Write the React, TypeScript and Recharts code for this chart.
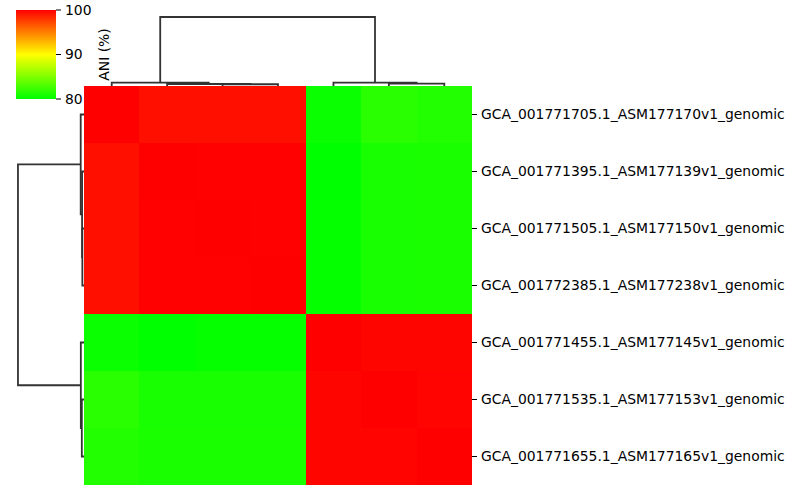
import { ScatterChart, Scatter, XAxis, YAxis, ReferenceArea, Label } from 'recharts';

const rowLabels = [
  'GCA_001771705.1_ASM177170v1_genomic',
  'GCA_001771395.1_ASM177139v1_genomic',
  'GCA_001771505.1_ASM177150v1_genomic',
  'GCA_001772385.1_ASM177238v1_genomic',
  'GCA_001771455.1_ASM177145v1_genomic',
  'GCA_001771535.1_ASM177153v1_genomic',
  'GCA_001771655.1_ASM177165v1_genomic',
];

// ANI (%) matrix, rows and columns in the clustered order
const aniMatrix: number[][] = [
  [100, 99.4, 99.4, 99.4, 80.4, 81.6, 81.3],
  [99.4, 100, 99.95, 99.95, 80.0, 80.9, 81.0],
  [99.4, 99.95, 100, 99.95, 80.1, 80.9, 81.0],
  [99.4, 99.95, 99.95, 100, 80.1, 80.9, 81.0],
  [80.4, 80.0, 80.2, 80.2, 100, 99.8, 99.8],
  [81.6, 80.9, 80.9, 80.9, 99.8, 100, 99.85],
  [81.3, 81.0, 81.0, 81.0, 99.8, 99.85, 100],
];

// linkage: [left node, right node, distance], leaves 0..6 in display order
const merges: [number, number, number][] = [
  [2, 3, 1.25],
  [1, 7, 1.45],
  [0, 8, 2.5],
  [5, 6, 1.65],
  [4, 10, 2.4],
  [9, 11, 50],
];

const colorbarTicks = [80, 90, 100];
const vmin = 80;
const vmax = 100;

function aniColor(v: number) {
  const t = Math.max(0, Math.min(1, (v - vmin) / (vmax - vmin)));
  let r = 255;
  let g = 255;
  if (t < 0.5) r = Math.round(255 * t * 2);
  else g = Math.round(255 * (1 - t) * 2);
  return `rgb(${r},${g},0)`;
}

function buildLinks(n: number) {
  const pos: number[] = [];
  const hgt: number[] = [];
  for (let i = 0; i < n; i++) {
    pos[i] = i + 0.5;
    hgt[i] = 0;
  }
  const links: { p: number; d: number }[][] = [];
  merges.forEach(([a, b, h], k) => {
    links.push([
      { p: pos[a], d: hgt[a] },
      { p: pos[a], d: h },
      { p: pos[b], d: h },
      { p: pos[b], d: hgt[b] },
    ]);
    pos[n + k] = (pos[a] + pos[b]) / 2;
    hgt[n + k] = h;
  });
  return links;
}

const links = buildLinks(rowLabels.length);
const n = rowLabels.length;
const lineStyle = { stroke: '#333333', strokeWidth: 1.8 };
const noShape = () => <g />;
const font = 'DejaVu Sans, sans-serif';
const fs = 13.9;

export default function App() {
  return (
    <div style={{ position: 'absolute', left: 0, top: 0, width: 800, height: 500, background: '#fff', fontFamily: font }}>
      {/* colour bar */}
      <div style={{ position: 'absolute', left: 16, top: 0 }}>
        <ScatterChart width={140} height={109} margin={{ top: 10, right: 0, bottom: 10, left: 0 }}>
          <defs>
            <linearGradient id="aniGrad" x1="0" y1="0" x2="0" y2="1">
              <stop offset="0%" stopColor="#ff0000" />
              <stop offset="50%" stopColor="#ffff00" />
              <stop offset="100%" stopColor="#00ff00" />
            </linearGradient>
          </defs>
          <XAxis type="number" dataKey="x" domain={[0, 1]} hide />
          <YAxis
            type="number"
            dataKey="y"
            orientation="right"
            domain={[vmin, vmax]}
            ticks={colorbarTicks}
            width={100}
            axisLine={false}
            tickSize={5}
            tickMargin={4}
            tick={{ fill: '#000', fontSize: fs, fontFamily: font }}
            tickLine={{ stroke: '#000' }}
          >
            <Label
              content={({ viewBox }: any) => {
                const cx = viewBox.x + 48;
                const cy = viewBox.y + viewBox.height / 2;
                return (
                  <text x={cx} y={cy} transform={`rotate(-90 ${cx} ${cy})`} textAnchor="middle" dominantBaseline="central" fontSize={fs} fontFamily={font} fill="#000">
                    ANI (%)
                  </text>
                );
              }}
            />
          </YAxis>
          <ReferenceArea x1={0} x2={1} y1={vmin} y2={vmax} fill="url(#aniGrad)" fillOpacity={1} stroke="none" />
          <Scatter data={[{ x: 0.5, y: 90 }]} shape={noShape} isAnimationActive={false} />
        </ScatterChart>
      </div>

      {/* column dendrogram */}
      <div style={{ position: 'absolute', left: 84, top: 0 }}>
        <ScatterChart width={388} height={86} margin={{ top: 0, right: 0, bottom: 0, left: 0 }}>
          <XAxis type="number" dataKey="x" domain={[0, n]} hide />
          <YAxis type="number" dataKey="y" domain={[0, 62.3]} hide />
          {links.map((l, i) => (
            <Scatter key={i} data={l.map((pt) => ({ x: pt.p, y: pt.d }))} line={lineStyle} shape={noShape} isAnimationActive={false} />
          ))}
        </ScatterChart>
      </div>

      {/* row dendrogram */}
      <div style={{ position: 'absolute', left: 0, top: 86 }}>
        <ScatterChart width={84} height={399} margin={{ top: 0, right: 0, bottom: 0, left: 0 }}>
          <XAxis type="number" dataKey="x" domain={[0, 63.6]} reversed hide />
          <YAxis type="number" dataKey="y" domain={[0, n]} reversed hide />
          {links.map((l, i) => (
            <Scatter key={i} data={l.map((pt) => ({ x: pt.d, y: pt.p }))} line={lineStyle} shape={noShape} isAnimationActive={false} />
          ))}
        </ScatterChart>
      </div>

      {/* heatmap */}
      <div style={{ position: 'absolute', left: 84, top: 86 }}>
        <ScatterChart width={716} height={399} margin={{ top: 0, right: 0, bottom: 0, left: 0 }}>
          <XAxis type="number" dataKey="x" domain={[0, n]} hide />
          <YAxis
            type="number"
            dataKey="y"
            orientation="right"
            domain={[0, n]}
            reversed
            ticks={rowLabels.map((_, i) => i + 0.5)}
            interval={0}
            tickFormatter={(v: number) => rowLabels[Math.floor(v)]}
            width={328}
            axisLine={false}
            tickSize={5}
            tickMargin={4}
            tick={{ fill: '#000', fontSize: fs, fontFamily: font }}
            tickLine={{ stroke: '#000' }}
          />
          {aniMatrix.map((row, r) =>
            row.map((v, c) => (
              <ReferenceArea
                key={`${r}-${c}`}
                x1={c}
                x2={c + 1}
                y1={r}
                y2={r + 1}
                fill={aniColor(v)}
                fillOpacity={1}
                stroke="none"
                shapeRendering="crispEdges"
              />
            ))
          )}
          <Scatter data={rowLabels.map((_, i) => ({ x: 0.5, y: i + 0.5 }))} shape={noShape} isAnimationActive={false} />
        </ScatterChart>
      </div>
    </div>
  );
}
